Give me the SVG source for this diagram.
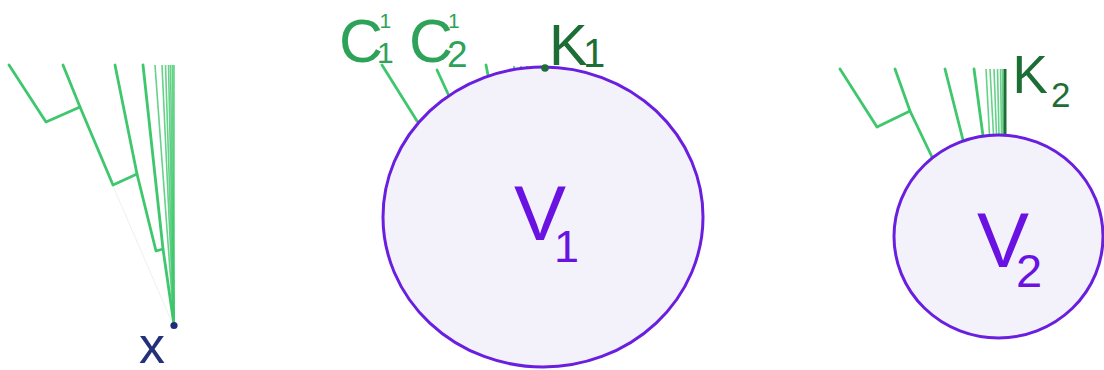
<svg xmlns="http://www.w3.org/2000/svg" width="1104" height="370" viewBox="0 0 1104 370">
<style>
.t{font-family:"Liberation Sans",Arial,sans-serif}
.g{fill:none;stroke:#3ec76c;stroke-width:2.8;stroke-linecap:round;stroke-linejoin:round}
.gf{fill:none;stroke:#3ec76c;stroke-width:1.6;opacity:0.8}
.node{fill:#f3f2fa;stroke:#6a1fe0;stroke-width:3}
.vl{fill:#6a12e2}
.cl{fill:#2fa25a}
.kl{fill:#1d6e35}
</style>
<rect width="1104" height="370" fill="#ffffff"/>
<g id="connectors">
  <!-- left tree to x -->
  <line x1="113" y1="186" x2="171" y2="320" stroke="#efefef" stroke-width="1"/>
  <polyline class="g" points="9,65 46,122 80,107"/>
  <polyline class="g" points="63,65 80,107 113,185 137,174"/>
  <polyline class="g" points="115,65 137,174 156,251 163,249"/>
  <polyline class="g" points="143,65 163,249 174,325"/>
  <line class="gf" x1="155" y1="65" x2="174" y2="325"/>
  <line class="gf" x1="162" y1="65" x2="174" y2="325"/>
  <line class="gf" x1="165.5" y1="65" x2="174" y2="325"/>
  <line class="gf" x1="168.5" y1="65" x2="174" y2="325"/>
  <line class="gf" x1="170.5" y1="65" x2="174" y2="325"/>
  <line class="gf" x1="172.5" y1="65" x2="174" y2="325"/>
  <line class="gf" x1="174" y1="65" x2="174" y2="325"/>
  <!-- V1 -->
  <line class="g" x1="382" y1="65" x2="417" y2="121"/>
  <line class="g" x1="437" y1="70" x2="449" y2="96"/>
  <line class="g" x1="486" y1="65" x2="488" y2="75"/>
  <g stroke="#3ec76c" stroke-width="1.6">
    <line x1="514" y1="66" x2="514" y2="71"/>
    <line x1="521" y1="66" x2="521" y2="70"/>
    <line x1="527" y1="66" x2="527" y2="69"/>
    <line x1="533" y1="66" x2="533" y2="69"/>
    <line x1="539" y1="66" x2="539" y2="68"/>
  </g>
  <!-- V2 -->
  <polyline class="g" points="840,69 877,127 910,111"/>
  <polyline class="g" points="895,69 910,111 932,157"/>
  <line class="g" x1="945" y1="69" x2="963" y2="140"/>
  <line class="g" x1="974" y1="69" x2="983" y2="136"/>
  <line class="gf" x1="986" y1="69" x2="989.5" y2="135"/>
  <line class="gf" x1="990" y1="69" x2="993.5" y2="135"/>
  <line class="gf" x1="994" y1="69" x2="996.5" y2="135"/>
  <line class="gf" x1="997.5" y1="69" x2="999" y2="135"/>
  <line class="gf" x1="1000.5" y1="69" x2="1001.5" y2="135"/>
  <line class="gf" x1="1002.5" y1="69" x2="1003" y2="135"/>
  <line x1="1005" y1="69" x2="1005" y2="135" stroke="#1d6e35" stroke-width="3"/>
</g>
<g id="node-x">
  <circle cx="174" cy="325.5" r="3.6" fill="#1f2a7a"/>
  <text class="t" x="139" y="363" font-size="52" fill="#23307a">x</text>
</g>
<g id="node-V1">
  <ellipse class="node" cx="543" cy="217" rx="160" ry="150"/>
  <text class="t vl" x="514" y="240" font-size="78">V<tspan x="554" y="262" font-size="45">1</tspan></text>
</g>
<g id="node-K1">
  <circle cx="545" cy="68" r="3.8" fill="#1d6e35"/>
  <text class="t kl" x="549" y="65" font-size="58">K<tspan x="583" y="67" font-size="40">1</tspan></text>
</g>
<g id="label-C11">
  <text class="t cl" x="339" y="62" font-size="61">C<tspan x="377" y="63" font-size="30">1</tspan><tspan x="379.5" y="28" font-size="21">1</tspan></text>
</g>
<g id="label-C21">
  <text class="t cl" x="409" y="62" font-size="61">C<tspan x="447" y="67" font-size="37">2</tspan><tspan x="448" y="28" font-size="21">1</tspan></text>
</g>
<g id="node-V2">
  <ellipse class="node" cx="998.5" cy="236.5" rx="104.5" ry="101.5"/>
  <text class="t vl" x="977" y="267" font-size="78">V<tspan x="1016" y="287" font-size="47">2</tspan></text>
</g>
<g id="node-K2">
  <text class="t kl" x="1012.5" y="93" font-size="53">K<tspan x="1051" y="106.5" font-size="35">2</tspan></text>
</g>
</svg>
